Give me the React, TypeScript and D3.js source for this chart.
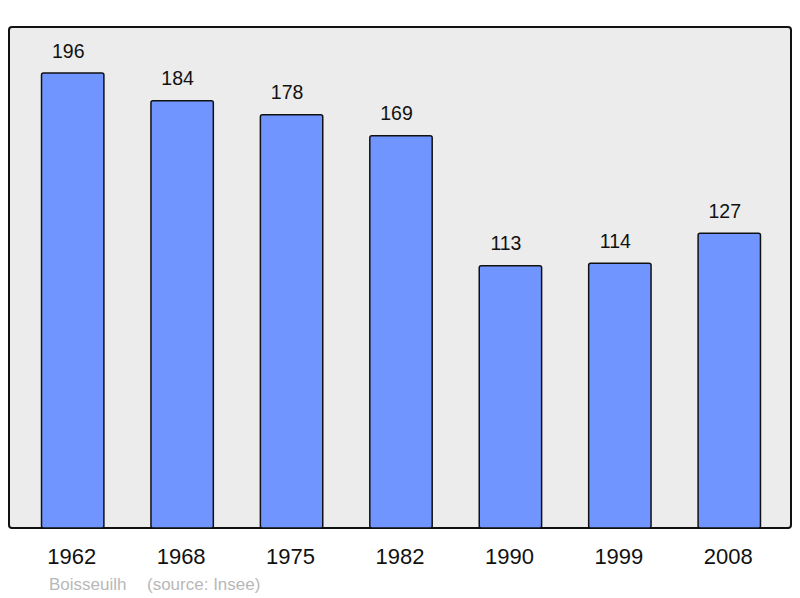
import React from 'react';
import * as d3 from 'd3';

const years = ['1962', '1968', '1975', '1982', '1990', '1999', '2008'];
const population = [196, 184, 178, 169, 113, 114, 127];
const townName = 'Boisseuilh';
const sourceNote = '(source: Insee)';

const W = 800;
const H = 598;

export default function App() {
  const x = d3.scaleBand<string>()
    .domain(years)
    .range([18, 784])
    .paddingInner(0.43)
    .paddingOuter(0.215);

  // baseline at 528, the 196 bar reaches 73
  const y = d3.scaleLinear().domain([0, 196]).range([528, 73]);

  return (
    <svg width={W} height={H} style={{ position: 'absolute', left: 0, top: 0 }}
      fontFamily="'Liberation Sans', Arial, sans-serif">
      <rect x={9} y={27} width={782} height={501} rx={3} fill="#ececec" stroke="#111" strokeWidth={2} />
      {years.map((yr, i) => (
        <g key={yr}>
          <rect x={x(yr)} y={y(population[i])} width={x.bandwidth()}
            height={y(0) - y(population[i])} rx={2}
            fill="#7095ff" stroke="#111" strokeWidth={1.5} />
          <text x={x(yr)! + x.bandwidth() / 2 - 4.5} y={y(population[i]) - 15.5}
            textAnchor="middle" fontSize={19.5} fill="#111">{population[i]}</text>
          <text x={x(yr)! + x.bandwidth() / 2 - 1} y={564}
            textAnchor="middle" fontSize={22} fill="#111">{yr}</text>
        </g>
      ))}
      <text x={49} y={590} fontSize={17} fill="#b8b8b8">{townName}</text>
      <text x={147} y={590} fontSize={17} fill="#b8b8b8">{sourceNote}</text>
    </svg>
  );
}
